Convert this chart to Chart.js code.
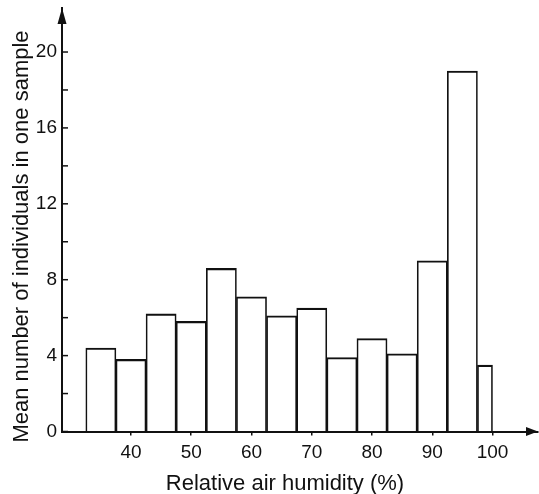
<!DOCTYPE html>
<html>
<head>
<meta charset="utf-8">
<script src="https://cdn.jsdelivr.net/npm/chart.js@4"></script>
<style>
  body { margin: 0; background: #fff; }
  canvas { display: block; }
</style>
</head>
<body>
<canvas id="chart" width="539" height="494"></canvas>
<script>
// humidity classes (centre of each 5% class) and mean counts
const binCenters = [35, 40, 45, 50, 55, 60, 65, 70, 75, 80, 85, 90, 95];
const meanCounts = [4.4, 3.8, 6.2, 5.8, 8.6, 7.1, 6.1, 6.5, 3.9, 4.9, 4.1, 9.0, 19.0];
// last class is only 97.5-100 %
const lastBinCenter = [98.75];
const lastBinCount = [3.5];
const lastBinEdges = [97.5, 100];

const xTickValues = [40, 50, 60, 70, 80, 90, 100];
const yTickValues = [0, 2, 4, 6, 8, 10, 12, 14, 16, 18, 20];
const yLabelStep = 4;

const xTitle = "Relative air humidity (%)";
const yTitle = "Mean number of individuals in one sample";

const fontFamily = "'Liberation Sans', Arial, sans-serif";
const ink = "#111";

const toPoints = (xs, ys) => xs.map((x, i) => ({ x: x, y: ys[i] }));

// arrows, inward y ticks and axis titles
const axesDecor = {
  id: "axesDecor",
  afterDraw(chart) {
    const { ctx, chartArea } = chart;
    const { left, top, right, bottom } = chartArea;
    const yScale = chart.scales.y;
    ctx.save();
    ctx.strokeStyle = ink;
    ctx.fillStyle = ink;
    ctx.lineWidth = 1.5;
    yTickValues.forEach(v => {
      const py = yScale.getPixelForValue(v);
      ctx.beginPath();
      ctx.moveTo(left, py);
      ctx.lineTo(left + 6, py);
      ctx.stroke();
    });
    // arrow heads
    ctx.beginPath();
    ctx.moveTo(left, top);
    ctx.lineTo(left - 4.5, top + 16);
    ctx.lineTo(left + 4.5, top + 16);
    ctx.closePath();
    ctx.fill();
    ctx.beginPath();
    ctx.moveTo(right, bottom);
    ctx.lineTo(right - 12, bottom - 4.5);
    ctx.lineTo(right - 12, bottom + 4.5);
    ctx.closePath();
    ctx.fill();
    // titles
    ctx.font = "22px " + fontFamily;
    ctx.textAlign = "center";
    ctx.textBaseline = "alphabetic";
    ctx.fillText(xTitle, 285, 490);
    ctx.translate(28, 236.5);
    ctx.rotate(-Math.PI / 2);
    ctx.fillText(yTitle, 0, 0);
    ctx.restore();
  }
};

const barStyle = {
  backgroundColor: "rgba(0,0,0,0)",
  borderColor: ink,
  borderWidth: { top: 1.5, left: 1, right: 1, bottom: 0 },
  borderSkipped: false,
  barPercentage: 1,
  categoryPercentage: 1,
  grouped: false
};

new Chart(document.getElementById("chart"), {
  type: "bar",
  data: {
    datasets: [
      Object.assign({ data: toPoints(binCenters, meanCounts), xAxisID: "x" }, barStyle),
      Object.assign({ data: toPoints(lastBinCenter, lastBinCount), xAxisID: "x2" }, barStyle)
    ]
  },
  options: {
    responsive: false,
    animation: false,
    layout: { padding: { top: 8, right: 1, left: 0, bottom: 0 } },
    plugins: { legend: { display: false }, tooltip: { enabled: false } },
    scales: {
      x: {
        type: "linear",
        offset: false,
        min: 28.55,
        max: 107.55,
        afterBuildTicks: s => { s.ticks = xTickValues.map(v => ({ value: v })); },
        afterFit: s => { s.height = 62.5; s.paddingLeft = 0; s.paddingRight = 0; },
        grid: { display: true, offset: false, drawOnChartArea: false, drawTicks: true, tickLength: 4, color: ink, lineWidth: 1.5 },
        border: { display: true, color: ink, width: 2 },
        ticks: { color: ink, padding: 6, font: { size: 19, family: fontFamily }, maxRotation: 0, autoSkip: false }
      },
      x2: {
        type: "linear",
        display: false,
        offset: false,
        grid: { offset: false },
        min: 28.55,
        max: 107.55,
        afterBuildTicks: s => { s.ticks = lastBinEdges.map(v => ({ value: v })); }
      },
      y: {
        min: 0,
        max: 22.32,
        afterBuildTicks: s => { s.ticks = yTickValues.map(v => ({ value: v })); },
        afterFit: s => { s.width = 62; s.paddingTop = 0; s.paddingBottom = 0; },
        grid: { display: true, drawOnChartArea: false, drawTicks: false },
        border: { display: true, color: ink, width: 2 },
        ticks: {
          color: ink,
          padding: 5,
          font: { size: 19, family: fontFamily },
          autoSkip: false,
          callback: v => (v % yLabelStep === 0 ? String(v) : "")
        }
      }
    }
  },
  plugins: [axesDecor]
});
</script>
</body>
</html>
